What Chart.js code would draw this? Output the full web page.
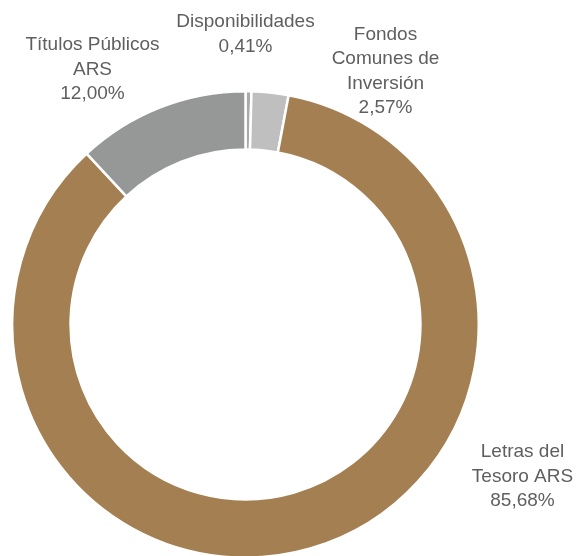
<!DOCTYPE html>
<html><head><meta charset="utf-8">
<script src="https://cdn.jsdelivr.net/npm/chart.js@4/dist/chart.umd.min.js"></script>
<style>html,body{margin:0;padding:0;background:#fff;overflow:hidden}#wrap{width:583px;height:559px}</style>
</head><body><div id="wrap"><canvas id="c"></canvas></div>
<script>
const categories = ["Disponibilidades", "Fondos Comunes de Inversión", "Letras del Tesoro ARS", "Títulos Públicos ARS"];
const values = [0.41, 2.57, 85.68, 12.00];
const valueLabels = ["0,41%", "2,57%", "85,68%", "12,00%"];
const labelLines = [["Disponibilidades"], ["Fondos", "Comunes de", "Inversión"], ["Letras del", "Tesoro ARS"], ["Títulos Públicos", "ARS"]];
const colors = ["#a9a9a9", "#bfbfbf", "#a37f51", "#969897"];
// label offsets relative to doughnut centre
const labelOffsets = [[0, -290], [140, -253], [277, 152], [-153, -255]];

const labelPlugin = {
  id: 'labels',
  afterDraw(chart) {
    const ctx = chart.ctx;
    const arc = chart.getDatasetMeta(0).data[0];
    const cx = arc.x, cy = arc.y;
    ctx.save();
    ctx.font = '19px "Liberation Sans", Arial, sans-serif';
    ctx.fillStyle = '#5f5f5f';
    ctx.textAlign = 'center';
    ctx.textBaseline = 'middle';
    const lh = 24.5;
    labelLines.forEach((lines, i) => {
      const all = lines.concat([valueLabels[i]]);
      const x = cx + labelOffsets[i][0];
      const y0 = cy + labelOffsets[i][1] - (all.length - 1) * lh / 2;
      all.forEach((t, j) => ctx.fillText(t, x, y0 + j * lh));
    });
    ctx.restore();
  }
};

new Chart(document.getElementById('c'), {
  type: 'doughnut',
  data: { labels: categories, datasets: [{ data: values, backgroundColor: colors, borderColor: '#ffffff', borderWidth: 2.5 }] },
  options: {
    responsive: true, maintainAspectRatio: false, animation: false,
    cutout: '75%',
    layout: { padding: { left: 11, right: 103, top: 90, bottom: 0 } },
    plugins: { legend: { display: false }, tooltip: { enabled: false } }
  },
  plugins: [labelPlugin]
});
</script></body></html>
